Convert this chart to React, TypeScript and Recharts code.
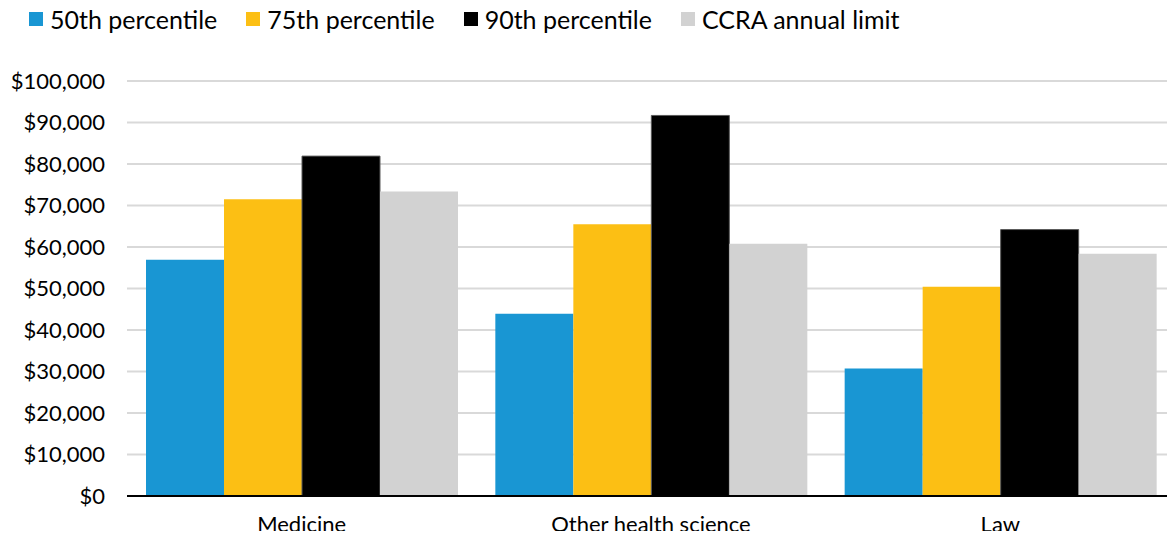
import React from "react";
import { BarChart, Bar, XAxis, YAxis, CartesianGrid } from "recharts";

// Programs and the percentile series
const programs = ["Medicine", "Other health science", "Law"];
const p50 = [56900, 43900, 30700];
const p75 = [71500, 65500, 50400];
const p90 = [81900, 91700, 64200];
const ccraLimit = [73400, 60800, 58400];
const yTicks = [0, 10000, 20000, 30000, 40000, 50000, 60000, 70000, 80000, 90000, 100000];

const series = [
  { key: "p50", name: "50th percentile", color: "#1996D3" },
  { key: "p75", name: "75th percentile", color: "#FCBF14" },
  { key: "p90", name: "90th percentile", color: "#000000" },
  { key: "ccra", name: "CCRA annual limit", color: "#D2D2D2" },
];

const data = programs.map((program, i) => ({
  program,
  p50: p50[i],
  p75: p75[i],
  p90: p90[i],
  ccra: ccraLimit[i],
}));

const FONT = "Lato, 'Noto Sans', sans-serif";

const formatDollars = (v: number) => "$" + v.toLocaleString("en-US");

function LegendRow() {
  return (
    <div
      style={{
        position: "absolute",
        top: 4,
        left: 29,
        display: "flex",
        alignItems: "center",
        fontFamily: FONT,
        fontSize: 25,
        color: "#000",
        whiteSpace: "nowrap",
      }}
    >
      {series.map((s, i) => (
        <div key={s.key} style={{ display: "flex", alignItems: "center", marginRight: i < series.length - 1 ? 29 : 0 }}>
          <div style={{ width: 14, height: 14, background: s.color, marginRight: 7 }} />
          <span>{s.name}</span>
        </div>
      ))}
    </div>
  );
}

export default function App() {
  return (
    <div style={{ position: "relative", width: 1175, height: 539, margin: -8, background: "#fff" }}>
      <LegendRow />
      <BarChart
        width={1175}
        height={539}
        data={data}
        margin={{ top: 81, right: 0, bottom: 0, left: 0 }}
        barCategoryGap={19}
        barGap={0}
      >
        <CartesianGrid vertical={false} stroke="#D9D9D9" strokeWidth={2} />
        <XAxis
          dataKey="program"
          height={43}
          tickLine={false}
          tickSize={0}
          tickMargin={20}
          axisLine={{ stroke: "#000", strokeWidth: 2 }}
          tick={{ fill: "#000", fontSize: 22, fontFamily: FONT }}
        />
        <YAxis
          width={127}
          domain={[0, 100000]}
          ticks={yTicks}
          interval={0}
          tickFormatter={formatDollars}
          axisLine={false}
          tickLine={false}
          tickSize={0}
          tickMargin={22}
          tick={{ fill: "#000", fontSize: 22, fontFamily: FONT }}
        />
        {series.map((s) => (
          <Bar
            key={s.key}
            dataKey={s.key}
            name={s.name}
            fill={s.color}
            stroke={s.key === "p90" ? "#5a5a5a" : undefined}
            strokeWidth={s.key === "p90" ? 1 : 0}
            isAnimationActive={false}
          />
        ))}
      </BarChart>
    </div>
  );
}
